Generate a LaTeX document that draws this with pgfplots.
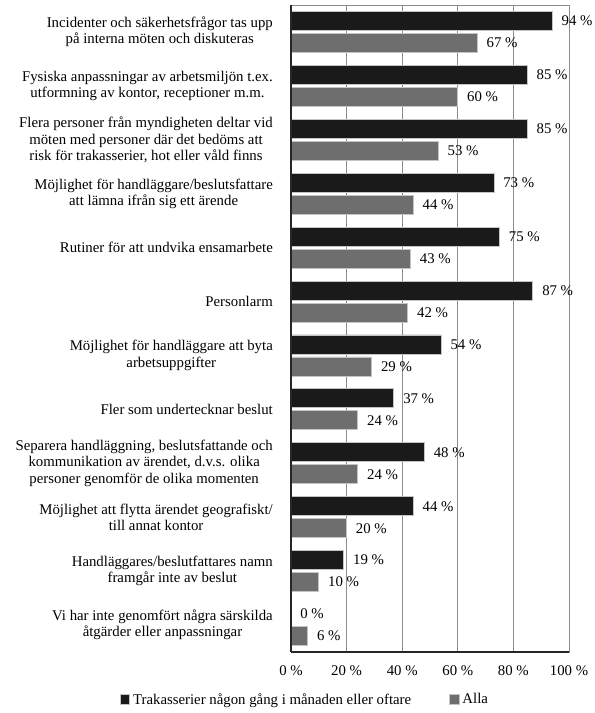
\documentclass[border=0pt]{standalone}
\usepackage{pgfplots}
\pgfplotsset{compat=1.18}
\usepackage{fontspec}
\setmainfont{Liberation Serif}
\definecolor{barblack}{HTML}{1A1A1A}
\definecolor{bargray}{HTML}{6E6E6E}
\definecolor{baredge}{HTML}{C4C4C4}
\definecolor{gridgray}{HTML}{8C8C8C}
\newcommand{\cf}{\fontsize{14.8bp}{16.2bp}\selectfont}
\begin{document}
\cf
\begin{tikzpicture}
\useasboundingbox (-291bp,-61bp) rectangle (304bp,652bp);
\begin{axis}[
  scale only axis,
  width=278bp, height=647bp,
  xbar, bar width=19bp,
  xmin=0, xmax=100,
  ymin=-0.5, ymax=11.5,
  xtick={0,20,...,100},
  ytick={0,...,11},
  yticklabels={
    {Vi har inte genomfört några särskilda\\åtgärder eller anpassningar},
    {Handläggares/beslutfattares namn\\framgår inte av beslut},
    {Möjlighet att flytta ärendet geografiskt/\\till annat kontor},
    {Separera handläggning, beslutsfattande och\\kommunikation av ärendet, d.v.s. olika\\personer genomför de olika momenten},
    {Fler som undertecknar beslut},
    {Möjlighet för handläggare att byta\\arbetsuppgifter},
    {Personlarm},
    {Rutiner för att undvika ensamarbete},
    {Möjlighet för handläggare/beslutsfattare\\att lämna ifrån sig ett ärende},
    {Flera personer från myndigheten deltar vid\\möten med personer där det bedöms att\\risk för trakasserier, hot eller våld finns},
    {Fysiska anpassningar av arbetsmiljön t.ex.\\utformning av kontor, receptioner m.m.},
    {Incidenter och säkerhetsfrågor tas upp\\på interna möten och diskuteras}
  },
  yticklabel style={align=center, anchor=east, inner sep=0pt, xshift=-18bp, font=\cf},
  xticklabel={\pgfmathprintnumber{\tick} \%},
  /pgf/number format/assume math mode=true,
  xticklabel style={font=\cf, inner sep=0pt, yshift=-13bp},
  major tick length=0pt,
  xmajorgrids,
  grid style={draw=gridgray, line width=0.9pt},
  axis line style={draw=gridgray, line width=0.9pt},
  nodes near coords={\pgfmathprintnumber{\pgfplotspointmeta} \%},
  nodes near coords style={anchor=west, inner sep=0pt, xshift=9bp, font=\cf, text=black},
  legend style={at={(0.05,-0.074)}, anchor=center, draw=none, fill=none,
    legend columns=2, font=\cf,
    nodes={inner xsep=2bp},
    /tikz/every odd column/.append style={column sep=1bp},
    /tikz/every even column/.append style={column sep=36bp}},
  legend image code/.code={\fill[#1] (0bp,-4.5bp) rectangle (9.5bp,5bp);},
  clip=false,
]
\addplot[fill=barblack, draw=baredge, line width=0.8pt, bar shift=11bp] coordinates {
  (94,11) (85,10) (85,9) (73,8) (75,7) (87,6) (54,5) (37,4) (48,3) (44,2) (19,1) (0,0)
};
\addlegendentry{Trakasserier någon gång i månaden eller oftare}
\addplot[fill=bargray, draw=baredge, line width=0.8pt, bar shift=-11bp] coordinates {
  (67,11) (60,10) (53,9) (44,8) (43,7) (42,6) (29,5) (24,4) (24,3) (20,2) (10,1) (6,0)
};
\addlegendentry{Alla}
\draw[black!85, line width=1.1pt] (rel axis cs:0,0) -- (rel axis cs:0,1);
\draw[black!85, line width=1.1pt] (rel axis cs:0,0) -- (rel axis cs:1,0);
\end{axis}
\end{tikzpicture}
\end{document}
